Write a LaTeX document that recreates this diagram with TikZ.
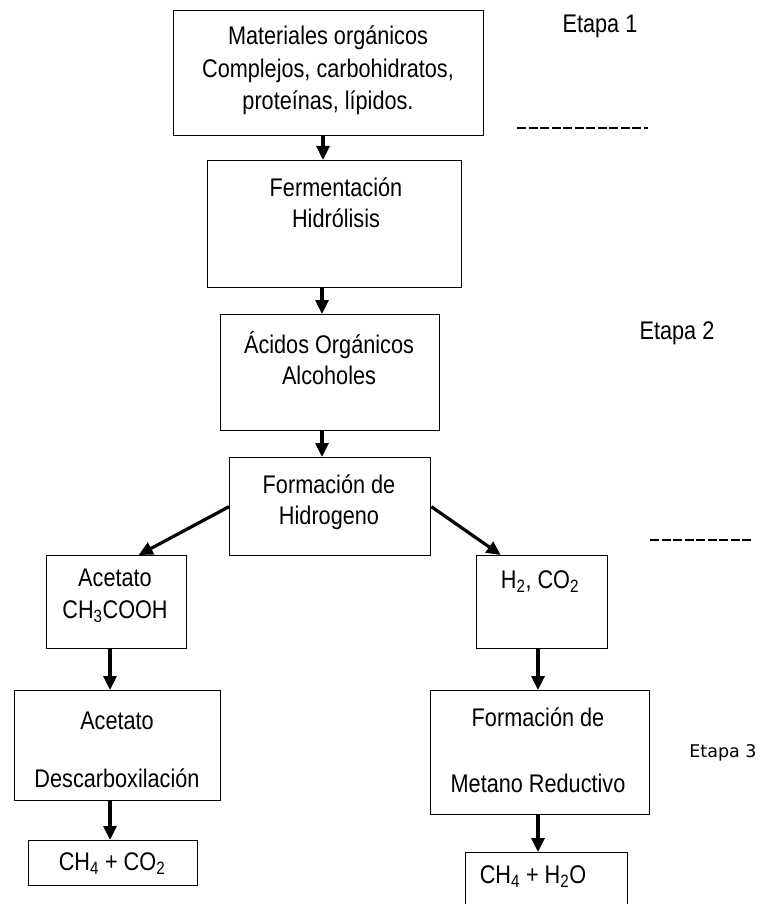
\documentclass[tikz,border=0pt]{standalone}
\usepackage{fontspec}
\setmainfont{Liberation Sans}[FakeStretch=0.85]
\newfontfamily\etapafont{DejaVu Sans}
\usetikzlibrary{arrows.meta,calc}
\begin{document}
\begin{tikzpicture}[x=1pt,y=-1pt,
  box/.style={draw=black,line width=1.4pt,inner sep=0pt,anchor=north west},
  txt/.style={font=\fontsize{25.5}{31.5}\selectfont,align=center,inner sep=0pt},
  etapa/.style={font=\etapafont\fontsize{17.5}{22}\selectfont,inner sep=0pt},
  arr/.style={line width=3.2pt,-{Triangle[length=14pt,width=13pt]}},
  dashline/.style={line width=1.5pt,dash pattern=on 9pt off 2.5pt}]
\useasboundingbox (0,0) rectangle (760,904);
\clip (0,0) rectangle (760,904);
\fill[white] (0,0) rectangle (760,904);
% boxes
\node[box,minimum width=310pt,minimum height=125pt] (b1) at (173,10) {};
\node[box,minimum width=254pt,minimum height=127pt] (b2) at (207,160) {};
\node[box,minimum width=219pt,minimum height=116pt] (b3) at (220,314) {};
\node[box,minimum width=201pt,minimum height=98pt] (b4) at (229,457) {};
\node[box,minimum width=140pt,minimum height=93pt] (b5) at (46,555) {};
\node[box,minimum width=131pt,minimum height=93pt] (b6) at (476,555) {};
\node[box,minimum width=206pt,minimum height=110pt] (b7) at (14,690) {};
\node[box,minimum width=219pt,minimum height=124pt] (b8) at (430,690) {};
\node[box,minimum width=169pt,minimum height=45pt] (b9) at (28,840) {};
\node[box,minimum width=162pt,minimum height=80pt] (b10) at (465,852) {};
% texts
\node[txt,font=\fontsize{25.5}{32.5}\selectfont] (t1) at (328,70.5) {Materiales orgánicos\\Complejos, carbohidratos,\\proteínas, lípidos.};
\node[txt] (t2) at (336,202.5) {Fermentación\\Hidrólisis};
\node[txt] (t3) at (329,358) {Ácidos Orgánicos\\Alcoholes};
\node[txt] (t4) at (329,502.5) {Formación de\\Hidrogeno};
\node[txt] (t5) at (115,596) {Acetato\\CH\textsubscript{3}COOH};
\node[txt] (t6) at (540,582) {H\textsubscript{2}, CO\textsubscript{2}};
\node[txt] (t7) at (117,750) {Acetato\\[26.5pt]Descarboxilación};
\node[txt] (t8) at (538,750) {Formación de\\[34.5pt]Metano Reductivo};
\node[txt] (t9) at (112,864) {CH\textsubscript{4} + CO\textsubscript{2}};
\node[txt] (t10) at (533,877) {CH\textsubscript{4} + H\textsubscript{2}O};
% stage labels
\node[txt] (e1) at (600,26) {Etapa 1};
\node[txt] (e2) at (677,333) {Etapa 2};
\node[etapa] (e3) at (723,753) {Etapa 3};
\draw[dashline] (517,128) -- (648,128);
\draw[dashline] (650,540) -- (753,540);
% arrow columns
\coordinate (xa) at (323,0);
\coordinate (xb) at (322,0);
\coordinate (xl) at (110,0);
\coordinate (xr) at (538,0);
\draw[arr] (b1.south -| xa) -- (b2.north -| xa);
\draw[arr] (b2.south -| xb) -- (b3.north -| xb);
\draw[arr] (b3.south -| xb) -- (b4.north -| xb);
\draw[arr] (b4.west) -- ($(b5.north)+(22,0)$);
\draw[arr] (b4.east) -- ($(b6.north)+(-41.5,0)$);
\draw[arr] (b5.south -| xl) -- (b7.north -| xl);
\draw[arr] (b7.south -| xl) -- (b9.north -| xl);
\draw[arr] (b6.south -| xr) -- (b8.north -| xr);
\draw[arr] (b8.south -| xr) -- (b10.north -| xr);
\end{tikzpicture}
\end{document}
